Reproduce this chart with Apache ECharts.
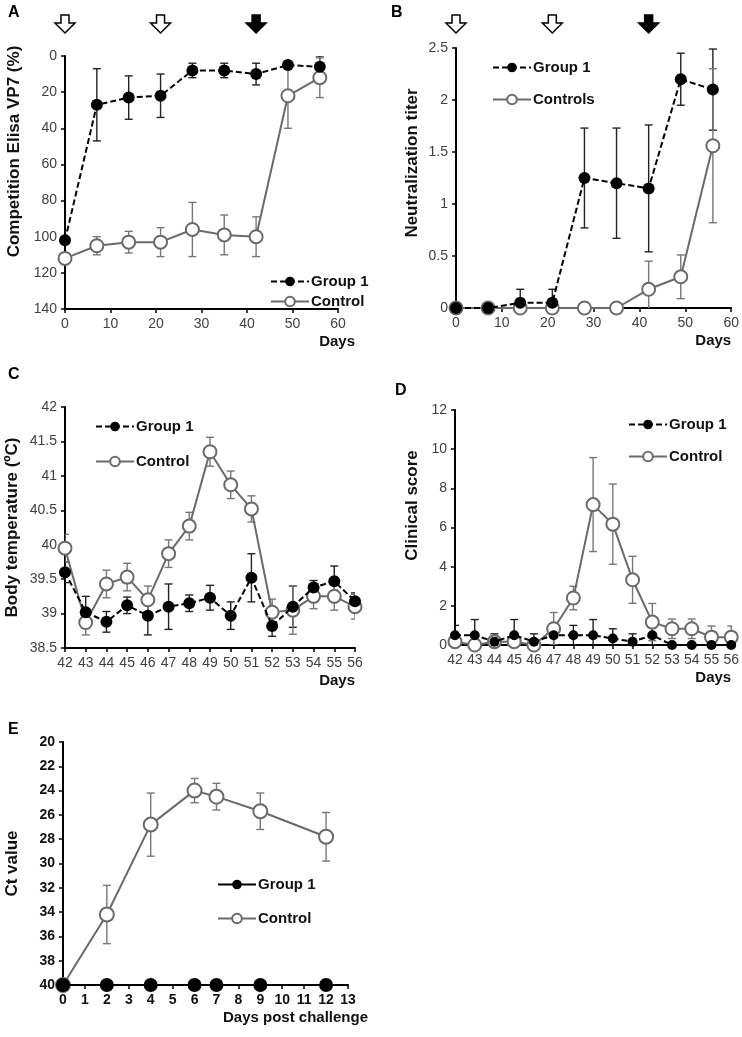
<!DOCTYPE html>
<html><head><meta charset="utf-8">
<script src="https://cdn.jsdelivr.net/npm/echarts@6/dist/echarts.min.js"></script>
<style>html,body{margin:0;padding:0;background:#fff}#c{width:742px;height:1037px}</style>
</head><body><div id="c"></div>
<script>
// ---------- DATA ----------
// Panel A: Competition ELISA VP7 (%)
const aDays = [0, 7, 14, 21, 28, 35, 42, 49, 56];
const aGroup1 = [102, 27, 23, 22, 8, 8, 10, 5, 6];
const aGroup1Err = [0, 20, 12, 12, 4, 4, 6, 2, 6];
const aControl = [112, 105, 103, 103, 96, 99, 100, 22, 12];
const aControlErr = [2, 5, 6, 8, 15, 11, 11, 18, 11];
const aYTicks = [0, 20, 40, 60, 80, 100, 120, 140];
const aXTicks = [0, 10, 20, 30, 40, 50, 60];

// Panel B: Neutralization titer
const bDays = [0, 7, 14, 21, 28, 35, 42, 49, 56];
const bGroup1 = [0, 0, 0.05, 0.05, 1.25, 1.2, 1.15, 2.2, 2.1];
const bGroup1Err = [0, 0, 0.13, 0.13, 0.48, 0.53, 0.61, 0.25, 0.39];
const bControl = [0, 0, 0, 0, 0, 0, 0.18, 0.3, 1.56];
const bControlErr = [0, 0, 0, 0, 0, 0, 0.27, 0.21, 0.74];
const bYTicks = [0, 0.5, 1, 1.5, 2, 2.5];
const bXTicks = [0, 10, 20, 30, 40, 50, 60];

// Vaccination / challenge arrows (days)
const arrowDays = [0, 21, 42];
const arrowFilled = [0, 0, 1];

// Panel C: Body temperature
const cDays = [42, 43, 44, 45, 46, 47, 48, 49, 50, 51, 52, 53, 54, 55, 56];
const cGroup1 = [39.6, 39.02, 38.88, 39.12, 38.97, 39.1, 39.15, 39.23, 38.97, 39.52, 38.82, 39.1, 39.38, 39.47, 39.18];
const cGroup1Err = [0.15, 0.23, 0.15, 0.12, 0.28, 0.33, 0.12, 0.18, 0.2, 0.35, 0.15, 0.3, 0.1, 0.22, 0.12];
const cControl = [39.95, 38.87, 39.43, 39.53, 39.2, 39.87, 40.27, 41.35, 40.87, 40.52, 39.02, 39.05, 39.25, 39.25, 39.1];
const cControlErr = [0.2, 0.18, 0.2, 0.2, 0.2, 0.2, 0.2, 0.21, 0.2, 0.19, 0.19, 0.35, 0.18, 0.2, 0.18];
const cYTicks = [38.5, 39, 39.5, 40, 40.5, 41, 41.5, 42];
const cXTicks = [42, 43, 44, 45, 46, 47, 48, 49, 50, 51, 52, 53, 54, 55, 56];

// Panel D: Clinical score
const dDays = [42, 43, 44, 45, 46, 47, 48, 49, 50, 51, 52, 53, 54, 55, 56];
const dGroup1 = [0.5, 0.5, 0.17, 0.5, 0.17, 0.5, 0.5, 0.5, 0.33, 0.17, 0.5, 0, 0, 0, 0];
const dGroup1Err = [0.5, 0.8, 0.4, 0.8, 0.4, 0.5, 0.5, 0.8, 0.5, 0.4, 0.5, 0, 0, 0, 0];
const dControl = [0.17, 0, 0.17, 0.17, 0, 0.83, 2.4, 7.17, 6.17, 3.33, 1.17, 0.83, 0.83, 0.4, 0.4];
const dControlErr = [0, 0, 0, 0, 0, 0.83, 0.6, 2.4, 2.05, 1.2, 0.95, 0.5, 0.5, 0.57, 0.57];
const dYTicks = [0, 2, 4, 6, 8, 10, 12];
const dXTicks = [42, 43, 44, 45, 46, 47, 48, 49, 50, 51, 52, 53, 54, 55, 56];

// Panel E: Ct value
const eDays = [0, 2, 4, 6, 7, 9, 12];
const eGroup1 = [40, 40, 40, 40, 40, 40, 40];
const eControl = [40, 34.2, 26.8, 24, 24.5, 25.7, 27.8];
const eControlErr = [0, 2.4, 2.6, 1.0, 1.1, 1.5, 2.0];
const eYTicks = [20, 22, 24, 26, 28, 30, 32, 34, 36, 38, 40];
const eXTicks = [0, 1, 2, 3, 4, 5, 6, 7, 8, 9, 10, 11, 12, 13];

// ---------- STYLE ----------
const FONT = '"Liberation Sans", Arial, sans-serif';
const G1_COLOR = '#000';
const CTRL_COLOR = '#6a6a6a';
const LABEL_COLOR = '#404040';

const grids = [
  {left: 65, top: 56, width: 273, height: 253},   // A
  {left: 456, top: 48, width: 276, height: 260},  // B
  {left: 65, top: 407, width: 290, height: 241},  // C
  {left: 455, top: 410, width: 278, height: 235}, // D
  {left: 63, top: 742, width: 285, height: 243}   // E
];

function rangeOf(t) { return {min: t[0], max: t[t.length - 1], interval: t[1] - t[0]}; }

function xAxisDef(gi, ticks, name, nameGap, bold) {
  const r = rangeOf(ticks);
  return {
    type: 'value', gridIndex: gi, min: r.min, max: r.max, interval: r.interval, position: 'bottom',
    axisLine: {onZero: false, lineStyle: {color: '#000', width: 2}},
    axisTick: {show: true, length: 4, lineStyle: {color: '#000', width: 1.5}},
    axisLabel: {color: bold ? '#111' : LABEL_COLOR, fontSize: 14, fontFamily: FONT, margin: 8,
      fontWeight: bold ? 'bold' : 'normal', showMinLabel: true, showMaxLabel: true},
    splitLine: {show: false},
    name: name, nameLocation: 'end', nameGap: nameGap,
    nameTextStyle: {fontWeight: 'bold', fontSize: 15, color: '#111', fontFamily: FONT,
      align: 'right', verticalAlign: 'top', padding: [25, 0, 0, 0]}
  };
}
function yAxisDef(gi, ticks, inverse, name, nameGap, shift, bold) {
  const r = rangeOf(ticks);
  return {
    type: 'value', gridIndex: gi, min: r.min, max: r.max, interval: r.interval, inverse: inverse,
    axisLine: {show: true, onZero: false, lineStyle: {color: '#000', width: 2}},
    axisTick: {show: true, length: 4, lineStyle: {color: '#000', width: 1.5}},
    axisLabel: {color: bold ? '#111' : LABEL_COLOR, fontSize: 14, fontFamily: FONT, margin: 8,
      fontWeight: bold ? 'bold' : 'normal', showMinLabel: true, showMaxLabel: true},
    splitLine: {show: false},
    name: name, nameLocation: 'middle', nameRotate: 90, nameGap: nameGap,
    nameTextStyle: {fontWeight: 'bold', fontSize: 17, color: '#111', fontFamily: FONT,
      padding: shift > 0 ? [0, 0, 0, shift * 2] : [0, -shift * 2, 0, 0]}
  };
}

function pts(xs, ys) { return xs.map((x, k) => [x, ys[k]]); }

function g1Series(name, gi, xs, ys, size, dashed) {
  return {
    type: 'line', name: name, xAxisIndex: gi, yAxisIndex: gi, data: pts(xs, ys),
    symbol: 'circle', symbolSize: size, showSymbol: true, clip: false, z: 5,
    itemStyle: {color: G1_COLOR, borderColor: G1_COLOR, borderWidth: 0},
    lineStyle: {color: G1_COLOR, width: 2, type: dashed ? [6, 3] : 'solid'},
    animation: false
  };
}
function ctrlSeries(name, gi, xs, ys, size) {
  return {
    type: 'line', name: name, xAxisIndex: gi, yAxisIndex: gi, data: pts(xs, ys),
    symbol: 'circle', symbolSize: size, showSymbol: true, clip: false, z: 4,
    itemStyle: {color: '#fff', borderColor: CTRL_COLOR, borderWidth: 2},
    lineStyle: {color: CTRL_COLOR, width: 2},
    animation: false
  };
}
function errSeries(gi, xs, ys, errs, color, z) {
  return {
    type: 'custom', xAxisIndex: gi, yAxisIndex: gi, z: z, clip: true, silent: true,
    data: xs.map((x, k) => [x, ys[k], errs[k]]),
    encode: {x: 0, y: 1},
    renderItem: function (params, api) {
      const x = api.value(0), v = api.value(1), e = api.value(2);
      if (!e) return;
      const p1 = api.coord([x, v - e]), p2 = api.coord([x, v + e]);
      const st = {stroke: color, lineWidth: 1.4};
      const cw = 4;
      return {type: 'group', children: [
        {type: 'line', shape: {x1: p1[0], y1: p1[1], x2: p2[0], y2: p2[1]}, style: st},
        {type: 'line', shape: {x1: p1[0] - cw, y1: p1[1], x2: p1[0] + cw, y2: p1[1]}, style: st},
        {type: 'line', shape: {x1: p2[0] - cw, y1: p2[1], x2: p2[0] + cw, y2: p2[1]}, style: st}
      ]};
    },
    animation: false
  };
}
const ARROW_TOP = 15;
function arrowSeries(gi) {
  return {
    type: 'custom', xAxisIndex: gi, yAxisIndex: gi, z: 6, clip: false, silent: true,
    data: arrowDays.map((d, k) => [d, arrowFilled[k]]),
    encode: {x: 0},
    renderItem: function (params, api) {
      const cx = api.coord([api.value(0), 0])[0];
      const t = ARROW_TOP;
      const filled = api.value(1) === 1;
      return {
        type: 'polygon',
        shape: {points: [[cx - 4, t], [cx + 4, t], [cx + 4, t + 8], [cx + 10, t + 8], [cx, t + 18],
          [cx - 10, t + 8], [cx - 4, t + 8]]},
        style: {fill: filled ? '#000' : '#fff', stroke: '#000', lineWidth: 1.5}
      };
    },
    animation: false
  };
}
function legendDef(names, left, top, gap) {
  return {
    data: names, left: left, top: top, orient: 'vertical', itemGap: gap, itemWidth: 38, itemHeight: 12,
    selectedMode: false, formatter: n => n.split('|')[1],
    textStyle: {fontWeight: 'bold', fontSize: 15, color: '#111', fontFamily: FONT, padding: [0, 0, 0, -3]}
  };
}
function letter(t, left, top) {
  return {text: t, left: left, top: top, textStyle: {fontSize: 16, fontWeight: 'bold', color: '#000', fontFamily: FONT}};
}

const option = {
  animation: false,
  backgroundColor: '#fff',
  textStyle: {fontFamily: FONT},
  title: [letter('A', 3, 0), letter('B', 386, 0), letter('C', 3, 362), letter('D', 390, 378), letter('E', 3, 717)],
  grid: grids.map(g => Object.assign({containLabel: false}, g)),
  xAxis: [
    xAxisDef(0, aXTicks, 'Days', 17, false),
    xAxisDef(1, bXTicks, 'Days', 0, false),
    xAxisDef(2, cXTicks, 'Days', 0, false),
    xAxisDef(3, dXTicks, 'Days', 0, false),
    xAxisDef(4, eXTicks, 'Days post challenge', 20, true)
  ],
  yAxis: [
    yAxisDef(0, aYTicks, true, 'Competition Elisa VP7 (%)', 42, 31, false),
    yAxisDef(1, bYTicks, false, 'Neutralization titer', 35, 15, false),
    yAxisDef(2, cYTicks, false, 'Body temperature (ºC)', 44, 0, false),
    yAxisDef(3, dYTicks, false, 'Clinical score', 34, 22, false),
    yAxisDef(4, eYTicks, true, 'Ct value', 42, 0, true)
  ],
  legend: [
    legendDef(['A|Group 1', 'A|Control'], 265, 269, 5),
    legendDef(['B|Group 1', 'B|Controls'], 487, 55, 17),
    legendDef(['C|Group 1', 'C|Control'], 90, 414, 20),
    legendDef(['D|Group 1', 'D|Control'], 623, 412, 17),
    legendDef(['E|Group 1', 'E|Control'], 212, 872, 19)
  ],
  series: [
    arrowSeries(0), arrowSeries(1),
    errSeries(0, aDays, aGroup1, aGroup1Err, '#222', 3),
    errSeries(0, aDays, aControl, aControlErr, '#777', 3),
    ctrlSeries('A|Control', 0, aDays, aControl, 13),
    g1Series('A|Group 1', 0, aDays, aGroup1, 12, true),

    errSeries(1, bDays, bGroup1, bGroup1Err, '#222', 3),
    errSeries(1, bDays, bControl, bControlErr, '#777', 3),
    ctrlSeries('B|Controls', 1, bDays, bControl, 13),
    g1Series('B|Group 1', 1, bDays, bGroup1, 12, true),

    errSeries(2, cDays, cGroup1, cGroup1Err, '#222', 3),
    errSeries(2, cDays, cControl, cControlErr, '#777', 3),
    ctrlSeries('C|Control', 2, cDays, cControl, 13),
    g1Series('C|Group 1', 2, cDays, cGroup1, 12, true),

    errSeries(3, dDays, dGroup1, dGroup1Err, '#222', 3),
    errSeries(3, dDays, dControl, dControlErr, '#777', 3),
    ctrlSeries('D|Control', 3, dDays, dControl, 13),
    g1Series('D|Group 1', 3, dDays, dGroup1, 10, true),

    errSeries(4, eDays, eControl, eControlErr, '#777', 3),
    ctrlSeries('E|Control', 4, eDays, eControl, 14),
    g1Series('E|Group 1', 4, eDays, eGroup1, 14, false)
  ]
};

const chart = echarts.init(document.getElementById('c'), null, {renderer: 'canvas'});
chart.setOption(option);
</script>
</body></html>
